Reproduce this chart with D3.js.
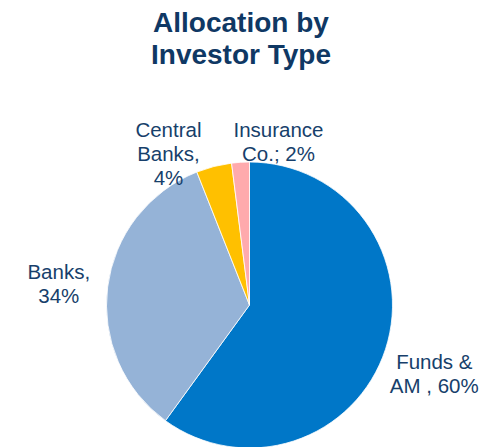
<!DOCTYPE html>
<html>
<head>
<meta charset="utf-8">
<script src="https://cdn.jsdelivr.net/npm/d3@7"></script>
<style>
  body { margin: 0; background: #fff; }
  svg { display: block; font-family: "Liberation Sans", Arial, sans-serif; }
</style>
</head>
<body>
<svg width="503" height="447"></svg>
<script>
// chart values
var categories = ["Funds & AM", "Banks", "Central Banks", "Insurance Co."];
var shares = [60, 34, 4, 2];
var labelLines = [["Funds &", "AM , 60%"], ["Banks,", "34%"], ["Central", "Banks,", "4%"], ["Insurance", "Co.; 2%"]];
var titleLines = ["Allocation by", "Investor Type"];

var colors = d3.scaleOrdinal()
	.domain(categories)
	.range(["#0077C8", "#95B3D7", "#FFC000", "#FFAAAD"]);

var svg = d3.select("svg");
var cx = 249.5, cy = 305, r = 143;

// title
svg.append("g").selectAll("text")
	.data(titleLines)
	.enter().append("text")
		.attr("x", 241)
		.attr("y", function(d, i) { return 31.5 + i * 32; })
		.attr("text-anchor", "middle")
		.attr("font-size", 28)
		.attr("font-weight", "bold")
		.attr("fill", "#0F3864")
		.text(function(d) { return d; });

var data = categories.map(function(c, i) { return { name: c, value: shares[i], lines: labelLines[i] }; });

var pie = d3.pie().sort(null).value(function(d) { return d.value; });
var arc = d3.arc().innerRadius(0).outerRadius(r);
var labelArc = d3.arc().innerRadius(198).outerRadius(198);

var g = svg.append("g").attr("transform", "translate(" + cx + "," + cy + ")");

g.selectAll("path")
	.data(pie(data))
	.enter().append("path")
		.attr("d", arc)
		.attr("fill", function(d) { return colors(d.data.name); })
		.attr("stroke", "#fff")
		.attr("stroke-width", 0.8);

// labels were hand-placed in the original, so nudge them off the centroid
var nudge = {
	"Funds & AM": [-3.5, 2.8],
	"Banks": [5.7, -1.2],
	"Central Banks": [-31.8, 23.8],
	"Insurance Co.": [41.4, 29.6]
};

var labels = g.selectAll("text.lbl")
	.data(pie(data))
	.enter().append("text")
		.attr("class", "lbl")
		.attr("text-anchor", "middle")
		.attr("font-size", 20.5)
		.attr("fill", "#173F6B")
		.attr("transform", function(d) {
			var p = labelArc.centroid(d), n = nudge[d.data.name];
			return "translate(" + (p[0] + n[0]) + "," + (p[1] + n[1]) + ")";
		});

labels.selectAll("tspan")
	.data(function(d) { return d.data.lines; })
	.enter().append("tspan")
		.attr("x", 0)
		.attr("y", function(d, i) { return i * 24; })
		.text(function(d) { return d; });
</script>
</body>
</html>
